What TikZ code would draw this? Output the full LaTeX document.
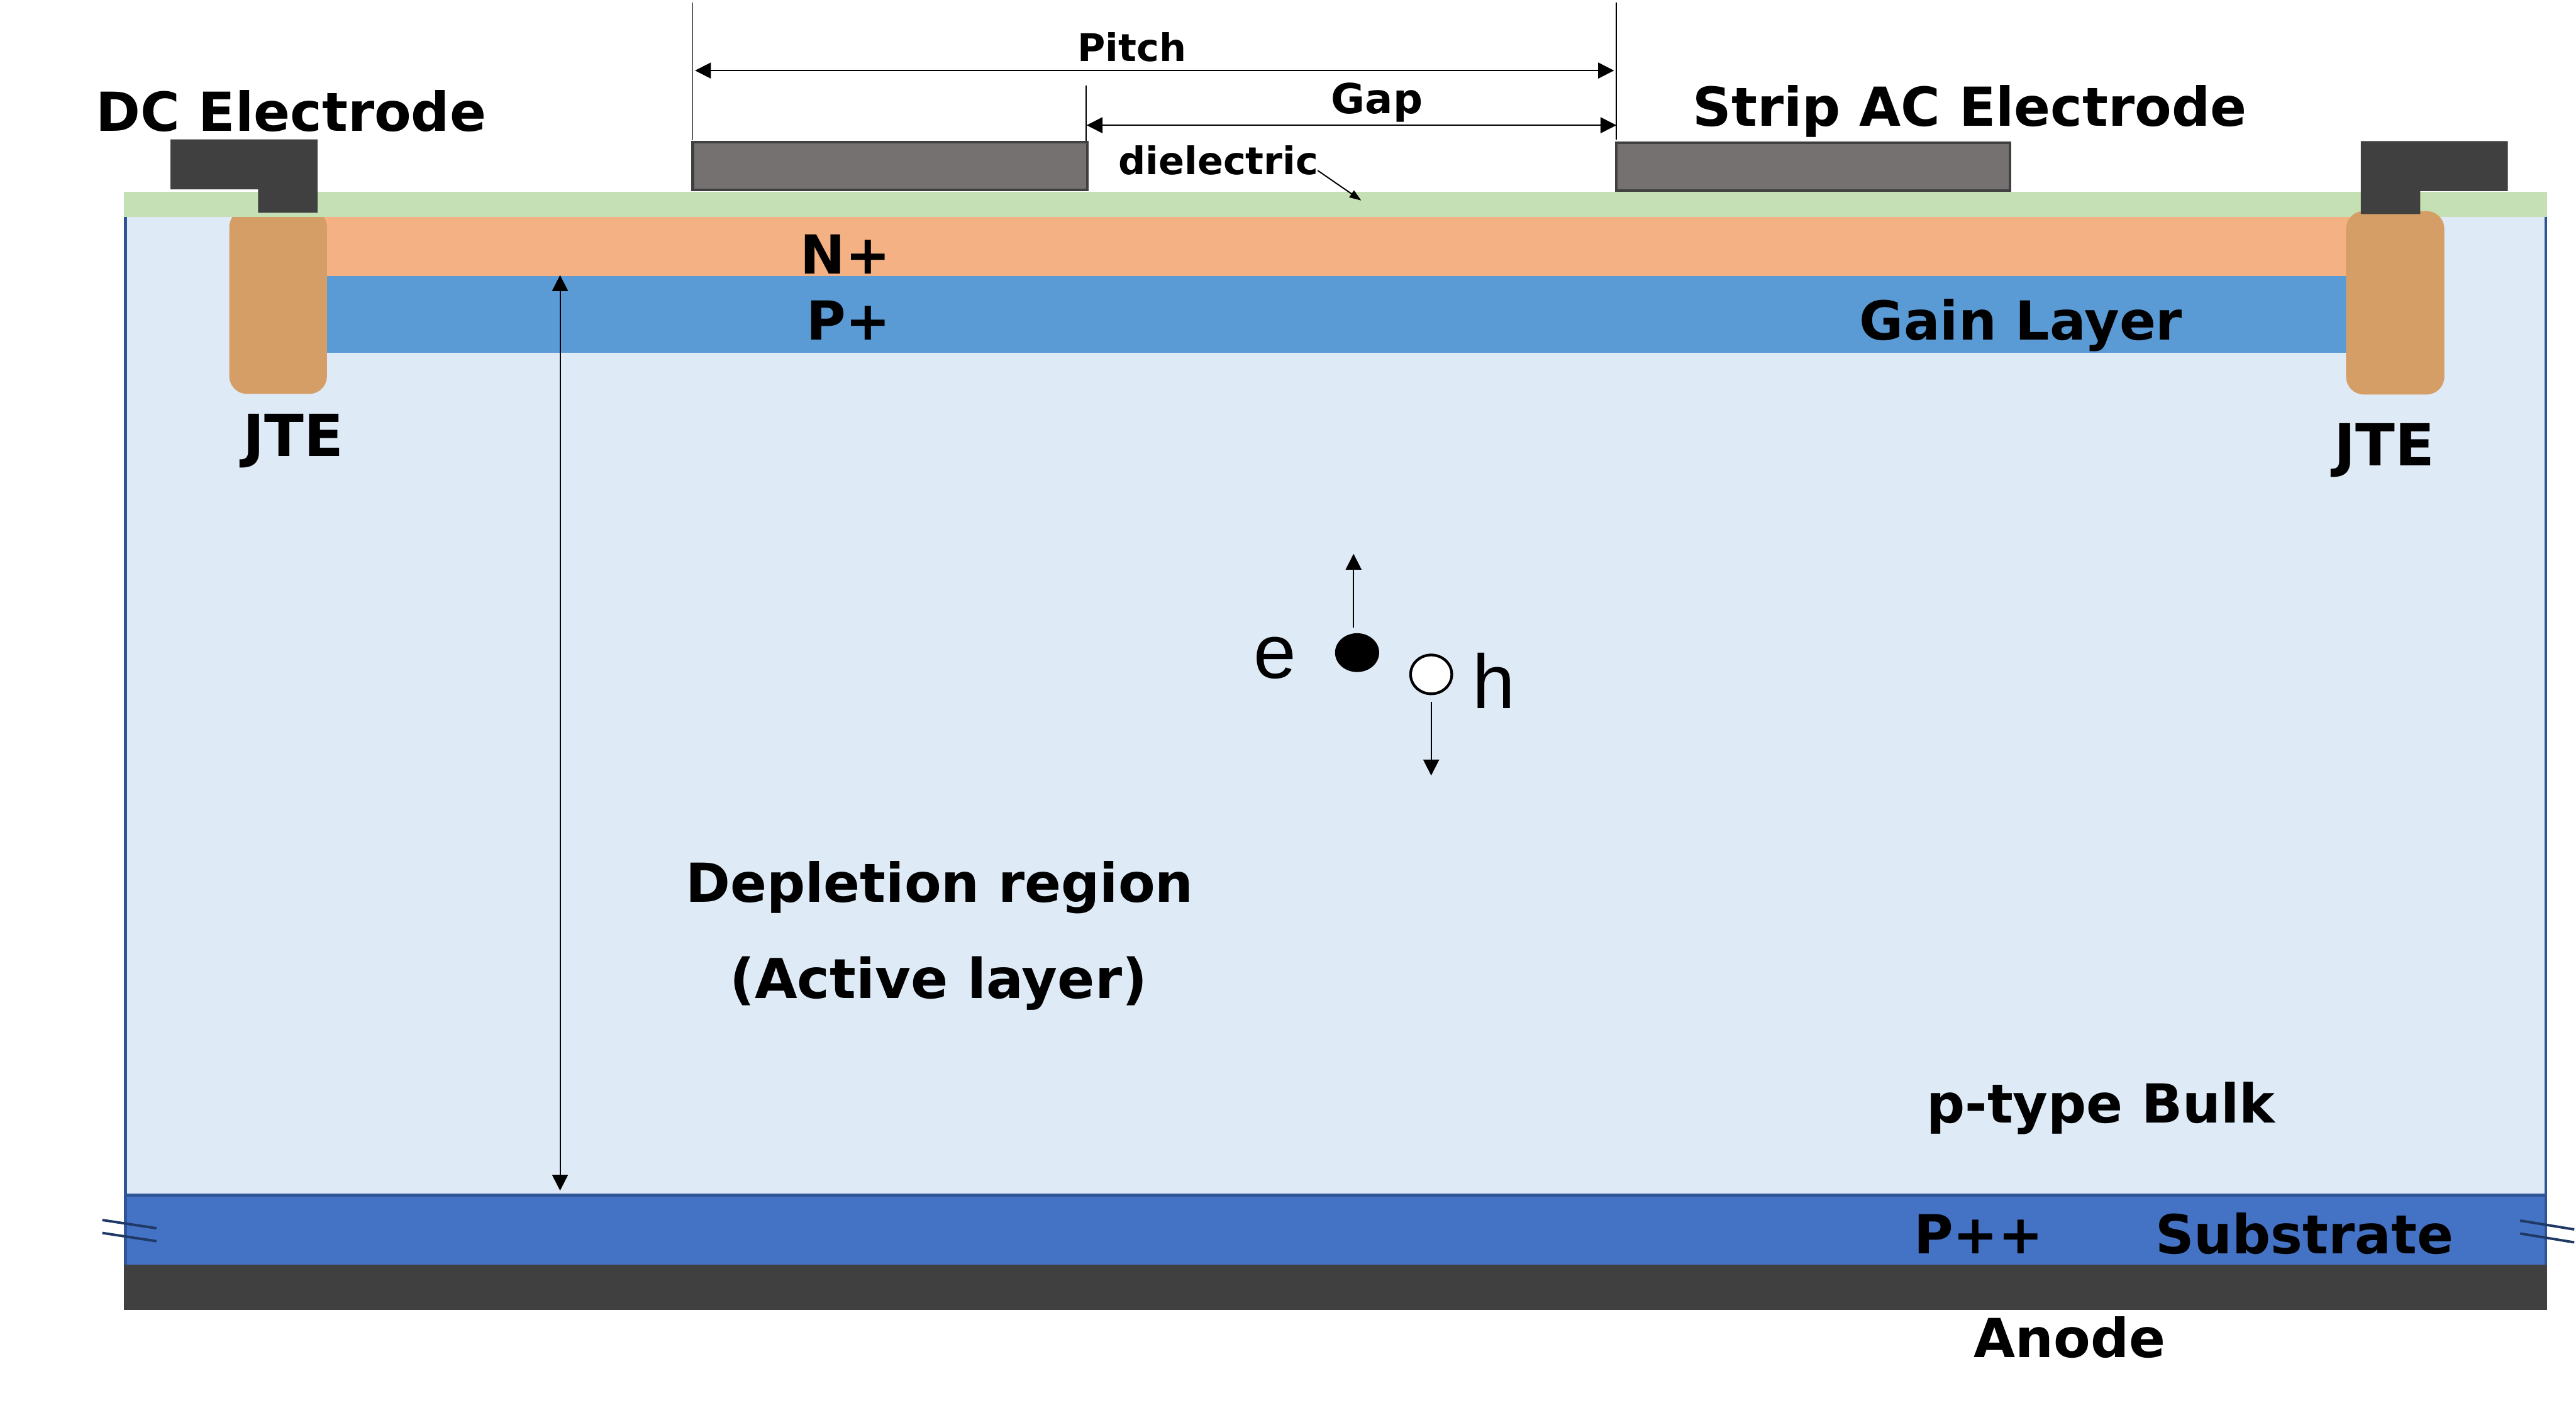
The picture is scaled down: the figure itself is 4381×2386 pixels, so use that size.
\documentclass[tikz,border=0pt]{standalone}
\usepackage{fontspec}
\setmainfont{DejaVu Sans}
\newfontfamily\arialish{Liberation Sans}
\usetikzlibrary{arrows.meta,shapes.geometric}
\definecolor{bulkfill}{HTML}{DEEAF6}
\definecolor{borderblue}{HTML}{2F5597}
\definecolor{nplus}{HTML}{F4B183}
\definecolor{pplus}{HTML}{5B9BD5}
\definecolor{jtefill}{HTML}{D59E66}
\definecolor{oxide}{HTML}{C5E0B4}
\definecolor{subfill}{HTML}{4472C4}
\definecolor{metal}{HTML}{404040}
\definecolor{acfill}{HTML}{767171}
\definecolor{breakblue}{HTML}{1F3864}
\tikzset{
  lab/.style={inner sep=0pt,outer sep=0pt,anchor=base,font=\fontsize{26}{30}\selectfont\bfseries},
  widelab/.style={lab,font=\fontsize{28}{32}\selectfont\bfseries},
  smalllab/.style={inner sep=0pt,outer sep=0pt,anchor=base,font=\fontsize{18.4}{22}\selectfont\bfseries},
  gaplab/.style={smalllab,font=\fontsize{20}{24}\selectfont\bfseries},
  carrier/.style={inner sep=0pt,outer sep=0pt,anchor=base,font=\fontsize{37}{44}\selectfont\arialish},
  dim/.style={line width=0.6pt,black,{Triangle[length=0.27cm,width=0.27cm]}-{Triangle[length=0.27cm,width=0.27cm]}},
  onearrow/.style={line width=0.55pt,black,-{Triangle[length=0.27cm,width=0.27cm]}},
  extline/.style={line width=0.5pt,black},
  breakmark/.style={line width=1.2pt,breakblue},
  acstrip/.style={fill=acfill,draw=metal,line width=1.3pt},
  jte/.style={fill=jtefill,rounded corners=0.3cm}
}
\begin{document}
\begin{tikzpicture}[x=0.01cm,y=-0.01cm]
\useasboundingbox (0,0) rectangle (4381,2386);
% bulk
\fill[bulkfill] (211,369) rectangle (4332,2032);
\fill[nplus] (500,369) rectangle (4050,470);
\fill[pplus] (500,470) rectangle (4050,600);
\fill[subfill] (211,2032) rectangle (4332,2151);
\fill[borderblue] (211,369) rectangle (216,2151);
\fill[borderblue] (4327,369) rectangle (4332,2151);
\fill[borderblue] (211,2030) rectangle (4332,2035);
% left JTE, then oxide, then right JTE
\fill[jte] (390,356) rectangle (556,670);
\fill[oxide] (211,326) rectangle (4332,369);
\fill[jte] (3990,359) rectangle (4157,671);
% DC electrodes
\fill[metal] (290,237) -- (540,237) -- (540,362) -- (439,362) -- (439,322) -- (290,322) -- cycle;
\fill[metal] (4015,240) -- (4265,240) -- (4265,325) -- (4116,325) -- (4116,364) -- (4015,364) -- cycle;
% AC strips
\path[acstrip] (1178,242) rectangle (1849,323);
\path[acstrip] (2749,243) rectangle (3418,324);
% anode
\fill[metal] (211,2151) rectangle (4332,2228);
% break marks
\coordinate (bl1a) at (174,2075); \coordinate (bl1b) at (266,2089);
\coordinate (bl2a) at (174,2097); \coordinate (bl2b) at (266,2111);
\coordinate (br1a) at (4286,2076); \coordinate (br1b) at (4378,2091);
\coordinate (br2a) at (4286,2098); \coordinate (br2b) at (4378,2113);
\draw[breakmark] (bl1a) -- (bl1b);
\draw[breakmark] (bl2a) -- (bl2b);
\draw[breakmark] (br1a) -- (br1b);
\draw[breakmark] (br2a) -- (br2b);
% dimension lines
\coordinate (p1top) at (1178,4); \coordinate (p1bot) at (1178,239);
\coordinate (p2top) at (2749,4); \coordinate (p2bot) at (2749,237);
\coordinate (g1top) at (1847,146); \coordinate (g1bot) at (1847,240);
\draw[extline] (p1top) -- (p1bot);
\draw[extline] (p2top) -- (p2bot);
\draw[extline] (g1top) -- (g1bot);
\coordinate (pl) at (1182,120); \coordinate (pr) at (2745,120);
\coordinate (gl) at (1848,213); \coordinate (gr) at (2749,213);
\draw[dim] (pl) -- (pr);
\draw[dim] (gl) -- (gr);
\coordinate (depT) at (952.5,468); \coordinate (depB) at (952.5,2025);
\draw[dim] (depT) -- (depB);
% labels
\node[lab] (dc) at (495,223) {DC Electrode};
\node[lab] (ac) at (3350,214) {Strip AC Electrode};
\node[smalllab] (pitch) at (1925,104) {Pitch};
\node[gaplab] (gap) at (2342,193) {Gap};
\node[smalllab] (diel) at (2072,297) {dielectric};
\coordinate (dieltip) at (2315,341);
\coordinate (dielfrom) at (2241,290);
\draw[line width=0.6pt,black,-{Triangle[length=0.2cm,width=0.14cm]}] (dielfrom) -- (dieltip);
\node[lab] (np) at (1438,466) {N+};
\node[lab] (pp) at (1443,578) {P+};
\node[lab] (gain) at (3437,578) {Gain Layer};
\node[widelab] (jtel) at (499,776) {JTE};
\node[widelab] (jter) at (4055,792) {JTE};
\node[lab] (dep1) at (1598,1534) {Depletion region};
\node[lab,font=\fontsize{26.6}{30}\selectfont\bfseries] (dep2) at (1596,1698) {(Active layer)};
\node[lab] (bulk) at (3573,1910) {p-type Bulk};
\node[lab] (ppp) at (3365,2132) {P++};
\node[lab] (subs) at (3919,2132) {Substrate};
\node[lab] (anode) at (3520,2309) {Anode};
% carriers
\node[fill=black,draw=none,ellipse,minimum width=0.75cm,minimum height=0.66cm,inner sep=0pt] (eldot) at (2308,1110) {};
\node[fill=white,draw=black,line width=1.3pt,ellipse,minimum width=0.70cm,minimum height=0.66cm,inner sep=0pt] (hole) at (2434,1147) {};
\coordinate (eup) at (2302,942); \coordinate (estart) at (2302,1067);
\coordinate (hdn) at (2434,1319); \coordinate (hstart) at (2434,1194);
\draw[onearrow] (estart) -- (eup);
\draw[onearrow] (hstart) -- (hdn);
\node[carrier] (elab) at (2168,1154) {e};
\node[carrier] (hlab) at (2541,1205) {h};
\end{tikzpicture}
\end{document}
